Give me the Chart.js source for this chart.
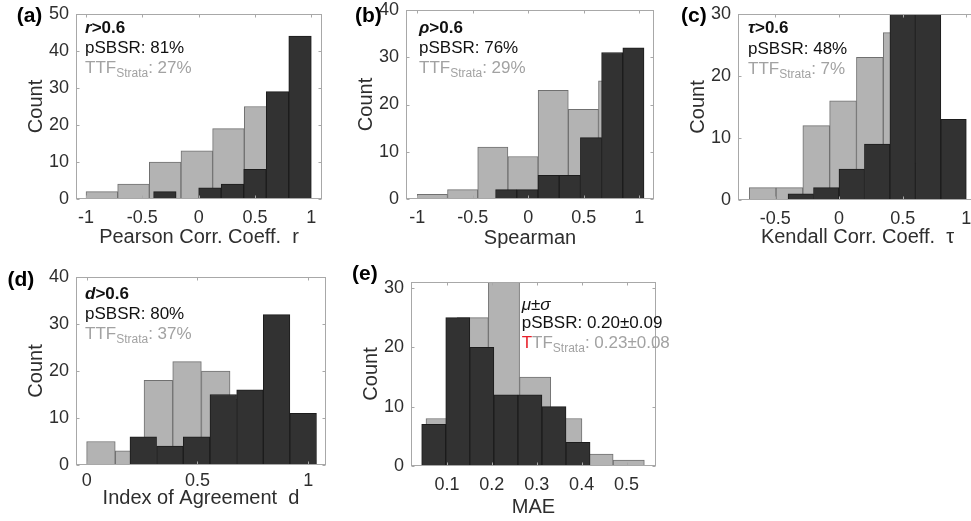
<!DOCTYPE html>
<html><head><meta charset="utf-8">
<script src="https://cdn.jsdelivr.net/npm/chart.js@4.4.1/dist/chart.umd.min.js"></script>
<style>
html,body{margin:0;padding:0;background:#fff;}
body{width:971px;height:521px;overflow:hidden;position:relative;font-family:"Liberation Sans",Arial,Helvetica,sans-serif;}
canvas{position:absolute;}
.ln{position:absolute;white-space:nowrap;line-height:20px;height:20px;font-size:17px;color:#111;}
.pl{position:absolute;white-space:nowrap;font-weight:bold;font-size:21px;line-height:24px;color:#000;}
.g{color:#a2a2a2}
.r{color:#e8202a}
.sub{font-size:12px;position:relative;top:4px;}
</style></head><body>
<script>
// ---------- DATA ----------
// (a) Pearson correlation coefficient r
const pearsonTTFEdges   = [-1.0, -0.719, -0.438, -0.157, 0.124, 0.405, 0.686, 0.967];
const pearsonTTFCounts  = [2, 4, 10, 13, 19, 25, 17];
const pearsonSBSREdges  = [-0.4, -0.2, 0.0, 0.2, 0.4, 0.6, 0.8, 1.0];
const pearsonSBSRCounts = [2, 0, 3, 4, 8, 29, 44];
const pearsonXTicks = [-1, -0.5, 0, 0.5, 1];
const pearsonYTicks = [0, 10, 20, 30, 40, 50];

// (b) Spearman rho
const spearmanTTFEdges   = [-1.0, -0.728, -0.456, -0.184, 0.088, 0.360, 0.632, 0.904];
const spearmanTTFCounts  = [1, 2, 11, 9, 23, 19, 25];
const spearmanSBSREdges  = [-0.295, -0.104, 0.087, 0.278, 0.469, 0.660, 0.851, 1.042];
const spearmanSBSRCounts = [2, 2, 5, 5, 13, 31, 32];
const spearmanXTicks = [-1, -0.5, 0, 0.5, 1];
const spearmanYTicks = [0, 10, 20, 30, 40];

// (c) Kendall tau
const kendallTTFEdges   = [-0.705, -0.494, -0.284, -0.073, 0.137, 0.348, 0.558, 0.769, 0.979];
const kendallTTFCounts  = [2, 2, 12, 16, 23, 27, 6, 2];
const kendallSBSREdges  = [-0.4, -0.2, 0.0, 0.2, 0.4, 0.6, 0.8, 1.0];
const kendallSBSRCounts = [1, 2, 5, 9, 30, 30, 13];
const kendallXTicks = [-0.5, 0, 0.5, 1];
const kendallYTicks = [0, 10, 20, 30];

// (d) Index of agreement d
const agreeTTFEdges   = [0.0, 0.129, 0.259, 0.388, 0.518, 0.647, 0.776, 0.906, 1.035];
const agreeTTFCounts  = [5, 3, 18, 22, 20, 14, 7, 1];
const agreeSBSREdges  = [0.195, 0.316, 0.436, 0.556, 0.677, 0.797, 0.917, 1.037];
const agreeSBSRCounts = [6, 4, 6, 15, 16, 32, 11];
const agreeXTicks = [0, 0.5, 1];
const agreeYTicks = [0, 10, 20, 30, 40];

// (e) MAE
const maeTTFEdges   = [0.0532, 0.1227, 0.1922, 0.2617, 0.3312, 0.4007, 0.4702, 0.5397];
const maeTTFCounts  = [8, 25, 31, 15, 8, 2, 1];
const maeSBSREdges  = [0.0436, 0.0972, 0.1508, 0.2044, 0.2580, 0.3116, 0.3652, 0.4188];
const maeSBSRCounts = [7, 25, 20, 12, 12, 10, 4];
const maeXTicks = [0.1, 0.2, 0.3, 0.4, 0.5];
const maeYTicks = [0, 10, 20, 30];

// ---------- LAYOUT / STYLE ----------
const FF = '"Liberation Sans", Arial, Helvetica, sans-serif';
const TXT = '#2e2e2e';
const layout = {
  a: {l:76,  t:14,  r:322, b:199, countX:36.5,  titleY:236.7, tickPad:8, xMin:-1.089, xMax:1.095, yMax:50},
  b: {l:406, t:10,  r:654, b:199, countX:366.7, titleY:238.3, tickPad:8, xMin:-1.102, xMax:1.132, yMax:40},
  c: {l:738, t:14,  r:977, b:200, countX:698.3, titleY:236.7, tickPad:8, xMin:-0.793, xMax:1.084, yMax:30},
  d: {l:76,  t:277, r:326, b:465, countX:36.5,  titleY:497.5, tickPad:5, xMin:-0.048, xMax:1.080, yMax:40},
  e: {l:411, t:282, r:656, b:466, countX:371.5, titleY:506.7, tickPad:8, xMin:0.0198, xMax:0.5657, yMax:31}
};

function toPts(edges, counts) {
  return counts.map((c, i) => ({x: (edges[i] + edges[i + 1]) / 2, y: c}));
}

const framePlugin = {
  id: 'frame',
  afterDraw(chart) {
    const {ctx, chartArea: a, scales} = chart;
    ctx.save();
    ctx.strokeStyle = '#a8a8a8';
    ctx.lineWidth = 1;
    const L = Math.round(a.left) + 0.5, T = Math.round(a.top) + 0.5;
    const R = Math.round(a.right) - 0.5, B = Math.round(a.bottom) - 0.5;
    ctx.strokeRect(L, T, R - L, B - T);
    const tl = 3;
    ctx.beginPath();
    scales.x.ticks.forEach(t => {
      const px = Math.round(scales.x.getPixelForValue(t.value)) + 0.5;
      ctx.moveTo(px, B); ctx.lineTo(px, B - tl);
      ctx.moveTo(px, T); ctx.lineTo(px, T + tl);
    });
    scales.y.ticks.forEach(t => {
      const py = Math.round(scales.y.getPixelForValue(t.value)) + 0.5;
      ctx.moveTo(L, py); ctx.lineTo(L + tl, py);
      ctx.moveTo(R, py); ctx.lineTo(R - tl, py);
    });
    ctx.stroke();
    ctx.restore();
  }
};

function makePanel(key, ttfEdges, ttfCounts, sbsrEdges, sbsrCounts, xTicks, yTicks, xTitle) {
  const P = layout[key];
  const YW = 60, PT = 20, PR = 24, TF = 20, LH = TF * 1.2, TK = 18;
  const Xc = P.l - YW, Yc = P.t - PT;
  const Hx = Math.round(P.titleY + LH / 2 - P.b);
  const Wc = P.r - Xc + PR, Hc = P.b + Hx - Yc;
  const cv = document.createElement('canvas');
  cv.width = Wc; cv.height = Hc;
  cv.style.left = Xc + 'px'; cv.style.top = Yc + 'px';
  cv.style.width = Wc + 'px'; cv.style.height = Hc + 'px';
  document.body.appendChild(cv);
  const hiddenAxis = {
    type: 'linear', display: false, min: P.xMin, max: P.xMax, offset: false,
    afterBuildTicks: s => { s.ticks = [{value: P.xMin}, {value: P.xMax}]; }
  };
  const barStyle = {barPercentage: 1, categoryPercentage: 1, grouped: false, borderWidth: 1};
  new Chart(cv, {
    type: 'bar',
    data: {
      datasets: [
        Object.assign({label: 'pSBSR', data: toPts(sbsrEdges, sbsrCounts), xAxisID: 'xs',
          backgroundColor: '#323232', borderColor: '#1c1c1c'}, barStyle),
        Object.assign({label: 'TTF Strata', data: toPts(ttfEdges, ttfCounts), xAxisID: 'xt',
          backgroundColor: '#b3b3b3', borderColor: '#707070'}, barStyle)
      ]
    },
    options: {
      responsive: false, animation: false, devicePixelRatio: 1,
      layout: {padding: {left: 0, top: PT, right: PR, bottom: 0}},
      plugins: {legend: {display: false}, tooltip: {enabled: false}},
      scales: {
        x: {
          type: 'linear', position: 'bottom', min: P.xMin, max: P.xMax, offset: false,
          grid: {display: false, drawTicks: false}, border: {display: false},
          afterBuildTicks: s => { s.ticks = xTicks.map(v => ({value: v})); },
          ticks: {padding: P.tickPad, color: TXT, autoSkip: false, maxRotation: 0,
                  font: {size: TK, family: FF}, callback: v => String(v)},
          title: {display: true, text: xTitle, color: TXT, font: {size: TF, family: FF},
                  padding: {top: 0, bottom: 0}},
          afterFit: s => { s.height = Hx; }
        },
        xs: hiddenAxis,
        xt: Object.assign({}, hiddenAxis),
        y: {
          type: 'linear', min: 0, max: P.yMax,
          grid: {display: false, drawTicks: false}, border: {display: false},
          afterBuildTicks: s => { s.ticks = yTicks.map(v => ({value: v})); },
          ticks: {padding: 7, color: TXT, font: {size: TK, family: FF}, callback: v => String(v)},
          title: {display: true, text: 'Count', color: TXT, font: {size: TF, family: FF},
                  padding: {top: P.countX - Xc - LH / 2, bottom: 0}},
          afterFit: s => { s.width = YW; }
        }
      }
    },
    plugins: [framePlugin]
  });
}

makePanel('a', pearsonTTFEdges, pearsonTTFCounts, pearsonSBSREdges, pearsonSBSRCounts,
          pearsonXTicks, pearsonYTicks, 'Pearson Corr. Coeff.  r');
makePanel('b', spearmanTTFEdges, spearmanTTFCounts, spearmanSBSREdges, spearmanSBSRCounts,
          spearmanXTicks, spearmanYTicks, 'Spearman');
makePanel('c', kendallTTFEdges, kendallTTFCounts, kendallSBSREdges, kendallSBSRCounts,
          kendallXTicks, kendallYTicks, 'Kendall Corr. Coeff.  τ');
makePanel('d', agreeTTFEdges, agreeTTFCounts, agreeSBSREdges, agreeSBSRCounts,
          agreeXTicks, agreeYTicks, 'Index of Agreement  d');
makePanel('e', maeTTFEdges, maeTTFCounts, maeSBSREdges, maeSBSRCounts,
          maeXTicks, maeYTicks, 'MAE');

// ---------- TEXT ANNOTATIONS ----------
const panelLabels = [['(a)', 16.7, 15], ['(b)', 355, 15], ['(c)', 681, 14.5], ['(d)', 7.5, 279], ['(e)', 352, 273]];
panelLabels.forEach(([t, x, cy]) => {
  const d = document.createElement('div');
  d.className = 'pl'; d.textContent = t;
  d.style.left = x + 'px'; d.style.top = (cy - 12) + 'px';
  document.body.appendChild(d);
});
const ttf = v => '<span class="g">TTF<span class="sub">Strata</span>: ' + v + '</span>';
const notes = [
  [85, 28.3, '<b><i>r</i>&gt;0.6</b>'], [85, 48.3, 'pSBSR: 81%'], [85, 68.3, ttf('27%')],
  [419, 28.3, '<b><i>ρ</i>&gt;0.6</b>'], [419, 48.3, 'pSBSR: 76%'], [419, 68.3, ttf('29%')],
  [748, 28.3, '<b><i>τ</i>&gt;0.6</b>'], [748, 49, 'pSBSR: 48%'], [748, 69, ttf('7%')],
  [85, 294.3, '<b><i>d</i>&gt;0.6</b>'], [85, 314.3, 'pSBSR: 80%'], [85, 333.7, ttf('37%')],
  [521.7, 305, '<i>μ±σ</i>'], [521.7, 322.7, 'pSBSR: 0.20±0.09'],
  [521.7, 342.7, '<span class="r">T</span><span class="g">TF<span class="sub">Strata</span>: 0.23±0.08</span>']
];
notes.forEach(([x, cy, html]) => {
  const d = document.createElement('div');
  d.className = 'ln'; d.innerHTML = html;
  d.style.left = x + 'px'; d.style.top = (cy - 10) + 'px';
  document.body.appendChild(d);
});
</script>
</body></html>
